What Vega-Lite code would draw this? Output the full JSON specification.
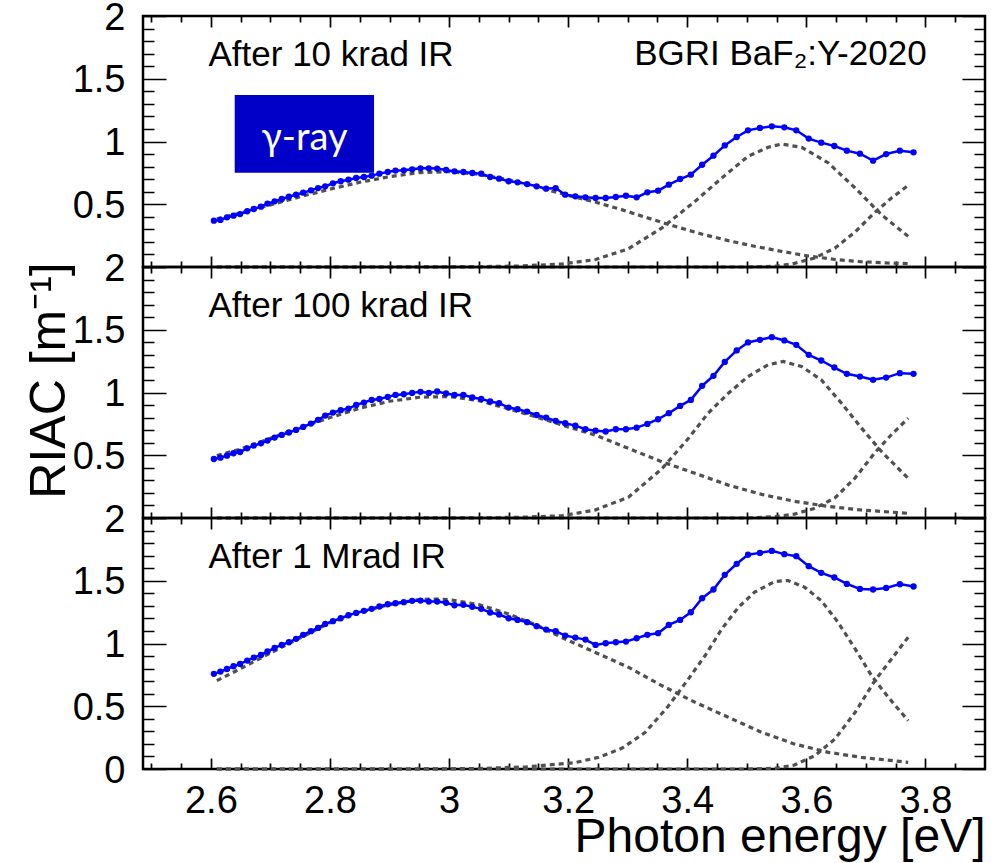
{
  "$schema": "https://vega.github.io/schema/vega-lite/v6.json",
  "background": "white",
  "padding": {"left": 22, "top": -3, "right": 0, "bottom": 0},
  "bounds": "flush",
  "spacing": 0,
  "config": {
    "view": {"stroke": "black", "strokeWidth": 2.5},
    "axis": {"ticks": false, "domain": false, "grid": false, "gridColor": "black", "gridOpacity": 1, "gridWidth": 1.7, "labelFont": "Liberation Sans", "labelFontSize": 38, "labelColor": "black", "titleFont": "Liberation Sans", "titleFontWeight": "normal", "titleColor": "black", "labelFlush": false, "labelOverlap": false},
    "text": {"font": "Liberation Sans"}
  },
  "datasets": {
    "blue": [
      {"p":1,"E":2.605,"v":0.369},{"p":1,"E":2.616,"v":0.375},{"p":1,"E":2.627,"v":0.396},{"p":1,"E":2.638,"v":0.409},{"p":1,"E":2.649,"v":0.422},
      {"p":1,"E":2.661,"v":0.444},{"p":1,"E":2.672,"v":0.462},{"p":1,"E":2.684,"v":0.481},{"p":1,"E":2.695,"v":0.505},{"p":1,"E":2.707,"v":0.523},
      {"p":1,"E":2.719,"v":0.542},{"p":1,"E":2.731,"v":0.560},{"p":1,"E":2.743,"v":0.576},{"p":1,"E":2.755,"v":0.592},{"p":1,"E":2.768,"v":0.611},
      {"p":1,"E":2.780,"v":0.629},{"p":1,"E":2.792,"v":0.643},{"p":1,"E":2.805,"v":0.667},{"p":1,"E":2.818,"v":0.683},{"p":1,"E":2.831,"v":0.696},
      {"p":1,"E":2.844,"v":0.709},{"p":1,"E":2.857,"v":0.717},{"p":1,"E":2.870,"v":0.728},{"p":1,"E":2.883,"v":0.744},{"p":1,"E":2.897,"v":0.757},
      {"p":1,"E":2.910,"v":0.768},{"p":1,"E":2.924,"v":0.770},{"p":1,"E":2.938,"v":0.778},{"p":1,"E":2.952,"v":0.786},{"p":1,"E":2.966,"v":0.786},
      {"p":1,"E":2.980,"v":0.784},{"p":1,"E":2.995,"v":0.773},{"p":1,"E":3.009,"v":0.762},{"p":1,"E":3.024,"v":0.757},{"p":1,"E":3.039,"v":0.749},
      {"p":1,"E":3.054,"v":0.744},{"p":1,"E":3.069,"v":0.717},{"p":1,"E":3.084,"v":0.704},{"p":1,"E":3.100,"v":0.683},{"p":1,"E":3.115,"v":0.675},
      {"p":1,"E":3.131,"v":0.661},{"p":1,"E":3.147,"v":0.643},{"p":1,"E":3.163,"v":0.624},{"p":1,"E":3.179,"v":0.629},{"p":1,"E":3.195,"v":0.576},
      {"p":1,"E":3.212,"v":0.563},{"p":1,"E":3.229,"v":0.555},{"p":1,"E":3.246,"v":0.550},{"p":1,"E":3.263,"v":0.550},{"p":1,"E":3.280,"v":0.558},
      {"p":1,"E":3.297,"v":0.568},{"p":1,"E":3.315,"v":0.555},{"p":1,"E":3.333,"v":0.595},{"p":1,"E":3.351,"v":0.608},{"p":1,"E":3.369,"v":0.656},
      {"p":1,"E":3.388,"v":0.701},{"p":1,"E":3.406,"v":0.736},{"p":1,"E":3.425,"v":0.815},{"p":1,"E":3.444,"v":0.887},{"p":1,"E":3.463,"v":0.969},
      {"p":1,"E":3.483,"v":1.036},{"p":1,"E":3.502,"v":1.089},{"p":1,"E":3.522,"v":1.108},{"p":1,"E":3.542,"v":1.121},{"p":1,"E":3.563,"v":1.113},
      {"p":1,"E":3.583,"v":1.089},{"p":1,"E":3.604,"v":1.023},{"p":1,"E":3.625,"v":0.991},{"p":1,"E":3.647,"v":0.964},{"p":1,"E":3.668,"v":0.927},
      {"p":1,"E":3.690,"v":0.903},{"p":1,"E":3.712,"v":0.847},{"p":1,"E":3.734,"v":0.900},{"p":1,"E":3.757,"v":0.927},{"p":1,"E":3.780,"v":0.914},

      {"p":2,"E":2.605,"v":0.470},{"p":2,"E":2.616,"v":0.481},{"p":2,"E":2.627,"v":0.497},{"p":2,"E":2.638,"v":0.516},{"p":2,"E":2.649,"v":0.526},
      {"p":2,"E":2.661,"v":0.555},{"p":2,"E":2.672,"v":0.577},{"p":2,"E":2.684,"v":0.595},{"p":2,"E":2.695,"v":0.617},{"p":2,"E":2.707,"v":0.641},
      {"p":2,"E":2.719,"v":0.662},{"p":2,"E":2.731,"v":0.681},{"p":2,"E":2.743,"v":0.702},{"p":2,"E":2.755,"v":0.726},{"p":2,"E":2.768,"v":0.752},
      {"p":2,"E":2.780,"v":0.782},{"p":2,"E":2.792,"v":0.816},{"p":2,"E":2.805,"v":0.840},{"p":2,"E":2.818,"v":0.859},{"p":2,"E":2.831,"v":0.872},
      {"p":2,"E":2.844,"v":0.901},{"p":2,"E":2.857,"v":0.920},{"p":2,"E":2.870,"v":0.941},{"p":2,"E":2.883,"v":0.949},{"p":2,"E":2.897,"v":0.965},
      {"p":2,"E":2.910,"v":0.981},{"p":2,"E":2.924,"v":0.986},{"p":2,"E":2.938,"v":0.997},{"p":2,"E":2.952,"v":1.005},{"p":2,"E":2.966,"v":0.997},
      {"p":2,"E":2.980,"v":1.008},{"p":2,"E":2.995,"v":0.992},{"p":2,"E":3.009,"v":0.981},{"p":2,"E":3.024,"v":0.981},{"p":2,"E":3.039,"v":0.960},
      {"p":2,"E":3.054,"v":0.949},{"p":2,"E":3.069,"v":0.928},{"p":2,"E":3.084,"v":0.915},{"p":2,"E":3.100,"v":0.880},{"p":2,"E":3.115,"v":0.867},
      {"p":2,"E":3.131,"v":0.848},{"p":2,"E":3.147,"v":0.821},{"p":2,"E":3.163,"v":0.800},{"p":2,"E":3.179,"v":0.774},{"p":2,"E":3.195,"v":0.755},
      {"p":2,"E":3.212,"v":0.736},{"p":2,"E":3.229,"v":0.707},{"p":2,"E":3.246,"v":0.696},{"p":2,"E":3.263,"v":0.689},{"p":2,"E":3.280,"v":0.707},
      {"p":2,"E":3.297,"v":0.707},{"p":2,"E":3.315,"v":0.720},{"p":2,"E":3.333,"v":0.750},{"p":2,"E":3.351,"v":0.787},{"p":2,"E":3.369,"v":0.835},
      {"p":2,"E":3.388,"v":0.893},{"p":2,"E":3.406,"v":0.941},{"p":2,"E":3.425,"v":1.053},{"p":2,"E":3.444,"v":1.133},{"p":2,"E":3.463,"v":1.244},
      {"p":2,"E":3.483,"v":1.335},{"p":2,"E":3.502,"v":1.399},{"p":2,"E":3.522,"v":1.420},{"p":2,"E":3.542,"v":1.441},{"p":2,"E":3.563,"v":1.415},
      {"p":2,"E":3.583,"v":1.380},{"p":2,"E":3.604,"v":1.300},{"p":2,"E":3.625,"v":1.255},{"p":2,"E":3.647,"v":1.199},{"p":2,"E":3.668,"v":1.149},
      {"p":2,"E":3.690,"v":1.127},{"p":2,"E":3.712,"v":1.101},{"p":2,"E":3.734,"v":1.119},{"p":2,"E":3.757,"v":1.154},{"p":2,"E":3.780,"v":1.149},

      {"p":3,"E":2.605,"v":0.758},{"p":3,"E":2.616,"v":0.776},{"p":3,"E":2.627,"v":0.797},{"p":3,"E":2.638,"v":0.819},{"p":3,"E":2.649,"v":0.837},
      {"p":3,"E":2.661,"v":0.864},{"p":3,"E":2.672,"v":0.888},{"p":3,"E":2.684,"v":0.909},{"p":3,"E":2.695,"v":0.936},{"p":3,"E":2.707,"v":0.965},
      {"p":3,"E":2.719,"v":0.989},{"p":3,"E":2.731,"v":1.010},{"p":3,"E":2.743,"v":1.037},{"p":3,"E":2.755,"v":1.069},{"p":3,"E":2.768,"v":1.098},
      {"p":3,"E":2.780,"v":1.124},{"p":3,"E":2.792,"v":1.156},{"p":3,"E":2.805,"v":1.178},{"p":3,"E":2.818,"v":1.201},{"p":3,"E":2.831,"v":1.225},
      {"p":3,"E":2.844,"v":1.244},{"p":3,"E":2.857,"v":1.260},{"p":3,"E":2.870,"v":1.276},{"p":3,"E":2.883,"v":1.295},{"p":3,"E":2.897,"v":1.313},
      {"p":3,"E":2.910,"v":1.321},{"p":3,"E":2.924,"v":1.329},{"p":3,"E":2.938,"v":1.340},{"p":3,"E":2.952,"v":1.342},{"p":3,"E":2.966,"v":1.334},
      {"p":3,"E":2.980,"v":1.334},{"p":3,"E":2.995,"v":1.324},{"p":3,"E":3.009,"v":1.305},{"p":3,"E":3.024,"v":1.308},{"p":3,"E":3.039,"v":1.292},
      {"p":3,"E":3.054,"v":1.276},{"p":3,"E":3.069,"v":1.247},{"p":3,"E":3.084,"v":1.231},{"p":3,"E":3.100,"v":1.201},{"p":3,"E":3.115,"v":1.188},
      {"p":3,"E":3.131,"v":1.170},{"p":3,"E":3.147,"v":1.138},{"p":3,"E":3.163,"v":1.111},{"p":3,"E":3.179,"v":1.098},{"p":3,"E":3.195,"v":1.063},
      {"p":3,"E":3.212,"v":1.047},{"p":3,"E":3.229,"v":1.031},{"p":3,"E":3.246,"v":0.989},{"p":3,"E":3.263,"v":1.002},{"p":3,"E":3.280,"v":1.010},
      {"p":3,"E":3.297,"v":1.015},{"p":3,"E":3.315,"v":1.042},{"p":3,"E":3.333,"v":1.069},{"p":3,"E":3.351,"v":1.082},{"p":3,"E":3.369,"v":1.148},
      {"p":3,"E":3.388,"v":1.188},{"p":3,"E":3.406,"v":1.249},{"p":3,"E":3.425,"v":1.361},{"p":3,"E":3.444,"v":1.430},{"p":3,"E":3.463,"v":1.547},
      {"p":3,"E":3.483,"v":1.635},{"p":3,"E":3.502,"v":1.707},{"p":3,"E":3.522,"v":1.722},{"p":3,"E":3.542,"v":1.738},{"p":3,"E":3.563,"v":1.712},
      {"p":3,"E":3.583,"v":1.696},{"p":3,"E":3.604,"v":1.616},{"p":3,"E":3.625,"v":1.563},{"p":3,"E":3.647,"v":1.526},{"p":3,"E":3.668,"v":1.475},
      {"p":3,"E":3.690,"v":1.435},{"p":3,"E":3.712,"v":1.430},{"p":3,"E":3.734,"v":1.443},{"p":3,"E":3.757,"v":1.473},{"p":3,"E":3.780,"v":1.454}
    ],
    "fit": [
      {"p":1,"c":"A","E":2.61,"v":0.385},{"p":1,"c":"A","E":2.65,"v":0.43},{"p":1,"c":"A","E":2.70,"v":0.495},{"p":1,"c":"A","E":2.75,"v":0.56},
      {"p":1,"c":"A","E":2.80,"v":0.62},{"p":1,"c":"A","E":2.85,"v":0.675},{"p":1,"c":"A","E":2.90,"v":0.72},{"p":1,"c":"A","E":2.95,"v":0.752},
      {"p":1,"c":"A","E":3.00,"v":0.76},{"p":1,"c":"A","E":3.05,"v":0.738},{"p":1,"c":"A","E":3.10,"v":0.695},{"p":1,"c":"A","E":3.15,"v":0.635},
      {"p":1,"c":"A","E":3.20,"v":0.57},{"p":1,"c":"A","E":3.245,"v":0.518},{"p":1,"c":"A","E":3.29,"v":0.457},{"p":1,"c":"A","E":3.334,"v":0.39},
      {"p":1,"c":"A","E":3.379,"v":0.324},{"p":1,"c":"A","E":3.424,"v":0.263},{"p":1,"c":"A","E":3.469,"v":0.21},{"p":1,"c":"A","E":3.513,"v":0.165},
      {"p":1,"c":"A","E":3.558,"v":0.125},{"p":1,"c":"A","E":3.603,"v":0.088},{"p":1,"c":"A","E":3.648,"v":0.06},{"p":1,"c":"A","E":3.692,"v":0.042},
      {"p":1,"c":"A","E":3.737,"v":0.032},{"p":1,"c":"A","E":3.775,"v":0.026},
      {"p":1,"c":"B","E":2.61,"v":0.0},{"p":1,"c":"B","E":2.90,"v":0.0},{"p":1,"c":"B","E":3.05,"v":0.003},{"p":1,"c":"B","E":3.12,"v":0.008},
      {"p":1,"c":"B","E":3.189,"v":0.024},{"p":1,"c":"B","E":3.245,"v":0.058},{"p":1,"c":"B","E":3.301,"v":0.145},{"p":1,"c":"B","E":3.357,"v":0.31},
      {"p":1,"c":"B","E":3.413,"v":0.523},{"p":1,"c":"B","E":3.458,"v":0.709},{"p":1,"c":"B","E":3.502,"v":0.882},{"p":1,"c":"B","E":3.536,"v":0.954},
      {"p":1,"c":"B","E":3.558,"v":0.98},{"p":1,"c":"B","E":3.592,"v":0.954},{"p":1,"c":"B","E":3.637,"v":0.829},{"p":1,"c":"B","E":3.682,"v":0.629},
      {"p":1,"c":"B","E":3.726,"v":0.417},{"p":1,"c":"B","E":3.771,"v":0.244},
      {"p":1,"c":"C","E":2.61,"v":0.0},{"p":1,"c":"C","E":3.50,"v":0.0},{"p":1,"c":"C","E":3.547,"v":0.005},{"p":1,"c":"C","E":3.580,"v":0.029},
      {"p":1,"c":"C","E":3.614,"v":0.072},{"p":1,"c":"C","E":3.648,"v":0.151},{"p":1,"c":"C","E":3.682,"v":0.28},{"p":1,"c":"C","E":3.715,"v":0.435},
      {"p":1,"c":"C","E":3.743,"v":0.55},{"p":1,"c":"C","E":3.771,"v":0.65},

      {"p":2,"c":"A","E":2.61,"v":0.497},{"p":2,"c":"A","E":2.65,"v":0.55},{"p":2,"c":"A","E":2.70,"v":0.635},{"p":2,"c":"A","E":2.75,"v":0.72},
      {"p":2,"c":"A","E":2.80,"v":0.80},{"p":2,"c":"A","E":2.85,"v":0.875},{"p":2,"c":"A","E":2.90,"v":0.93},{"p":2,"c":"A","E":2.95,"v":0.962},
      {"p":2,"c":"A","E":3.00,"v":0.968},{"p":2,"c":"A","E":3.05,"v":0.935},{"p":2,"c":"A","E":3.10,"v":0.87},{"p":2,"c":"A","E":3.15,"v":0.80},
      {"p":2,"c":"A","E":3.192,"v":0.737},{"p":2,"c":"A","E":3.245,"v":0.662},{"p":2,"c":"A","E":3.301,"v":0.555},{"p":2,"c":"A","E":3.357,"v":0.449},
      {"p":2,"c":"A","E":3.413,"v":0.356},{"p":2,"c":"A","E":3.469,"v":0.262},{"p":2,"c":"A","E":3.525,"v":0.188},{"p":2,"c":"A","E":3.580,"v":0.133},
      {"p":2,"c":"A","E":3.637,"v":0.092},{"p":2,"c":"A","E":3.692,"v":0.064},{"p":2,"c":"A","E":3.771,"v":0.037},
      {"p":2,"c":"B","E":2.61,"v":0.0},{"p":2,"c":"B","E":2.90,"v":0.0},{"p":2,"c":"B","E":3.05,"v":0.002},{"p":2,"c":"B","E":3.12,"v":0.006},
      {"p":2,"c":"B","E":3.189,"v":0.018},{"p":2,"c":"B","E":3.245,"v":0.063},{"p":2,"c":"B","E":3.301,"v":0.165},{"p":2,"c":"B","E":3.357,"v":0.39},
      {"p":2,"c":"B","E":3.402,"v":0.635},{"p":2,"c":"B","E":3.435,"v":0.835},{"p":2,"c":"B","E":3.469,"v":0.994},{"p":2,"c":"B","E":3.502,"v":1.127},
      {"p":2,"c":"B","E":3.536,"v":1.221},{"p":2,"c":"B","E":3.561,"v":1.247},{"p":2,"c":"B","E":3.592,"v":1.207},{"p":2,"c":"B","E":3.625,"v":1.101},
      {"p":2,"c":"B","E":3.659,"v":0.915},{"p":2,"c":"B","E":3.692,"v":0.72},{"p":2,"c":"B","E":3.726,"v":0.53},{"p":2,"c":"B","E":3.771,"v":0.316},
      {"p":2,"c":"C","E":2.61,"v":0.0},{"p":2,"c":"C","E":3.50,"v":0.0},{"p":2,"c":"C","E":3.547,"v":0.010},{"p":2,"c":"C","E":3.580,"v":0.031},
      {"p":2,"c":"C","E":3.614,"v":0.077},{"p":2,"c":"C","E":3.648,"v":0.16},{"p":2,"c":"C","E":3.682,"v":0.32},{"p":2,"c":"C","E":3.715,"v":0.52},
      {"p":2,"c":"C","E":3.743,"v":0.665},{"p":2,"c":"C","E":3.771,"v":0.795},

      {"p":3,"c":"A","E":2.61,"v":0.704},{"p":3,"c":"A","E":2.65,"v":0.80},{"p":3,"c":"A","E":2.70,"v":0.925},{"p":3,"c":"A","E":2.75,"v":1.045},
      {"p":3,"c":"A","E":2.80,"v":1.165},{"p":3,"c":"A","E":2.85,"v":1.25},{"p":3,"c":"A","E":2.90,"v":1.31},{"p":3,"c":"A","E":2.95,"v":1.35},
      {"p":3,"c":"A","E":2.97,"v":1.355},{"p":3,"c":"A","E":3.00,"v":1.35},{"p":3,"c":"A","E":3.05,"v":1.31},{"p":3,"c":"A","E":3.10,"v":1.235},
      {"p":3,"c":"A","E":3.15,"v":1.14},{"p":3,"c":"A","E":3.192,"v":1.042},{"p":3,"c":"A","E":3.245,"v":0.93},{"p":3,"c":"A","E":3.301,"v":0.811},
      {"p":3,"c":"A","E":3.357,"v":0.665},{"p":3,"c":"A","E":3.413,"v":0.532},{"p":3,"c":"A","E":3.469,"v":0.412},{"p":3,"c":"A","E":3.525,"v":0.292},
      {"p":3,"c":"A","E":3.580,"v":0.199},{"p":3,"c":"A","E":3.637,"v":0.133},{"p":3,"c":"A","E":3.692,"v":0.093},{"p":3,"c":"A","E":3.771,"v":0.053},
      {"p":3,"c":"B","E":2.61,"v":0.0},{"p":3,"c":"B","E":2.95,"v":0.0},{"p":3,"c":"B","E":3.05,"v":0.004},{"p":3,"c":"B","E":3.13,"v":0.017},
      {"p":3,"c":"B","E":3.211,"v":0.05},{"p":3,"c":"B","E":3.251,"v":0.093},{"p":3,"c":"B","E":3.290,"v":0.165},{"p":3,"c":"B","E":3.329,"v":0.29},
      {"p":3,"c":"B","E":3.368,"v":0.50},{"p":3,"c":"B","E":3.402,"v":0.718},{"p":3,"c":"B","E":3.430,"v":0.904},{"p":3,"c":"B","E":3.458,"v":1.116},
      {"p":3,"c":"B","E":3.486,"v":1.289},{"p":3,"c":"B","E":3.513,"v":1.409},{"p":3,"c":"B","E":3.547,"v":1.494},{"p":3,"c":"B","E":3.569,"v":1.502},
      {"p":3,"c":"B","E":3.597,"v":1.449},{"p":3,"c":"B","E":3.625,"v":1.342},{"p":3,"c":"B","E":3.653,"v":1.170},{"p":3,"c":"B","E":3.682,"v":0.957},
      {"p":3,"c":"B","E":3.710,"v":0.74},{"p":3,"c":"B","E":3.737,"v":0.575},{"p":3,"c":"B","E":3.771,"v":0.385},
      {"p":3,"c":"C","E":2.61,"v":0.0},{"p":3,"c":"C","E":3.50,"v":0.0},{"p":3,"c":"C","E":3.547,"v":0.005},{"p":3,"c":"C","E":3.580,"v":0.032},
      {"p":3,"c":"C","E":3.614,"v":0.106},{"p":3,"c":"C","E":3.648,"v":0.239},{"p":3,"c":"C","E":3.682,"v":0.452},{"p":3,"c":"C","E":3.715,"v":0.704},
      {"p":3,"c":"C","E":3.743,"v":0.877},{"p":3,"c":"C","E":3.771,"v":1.050}
    ],
    "txt": [
      {"p":1,"E":2.596,"v":1.6,"t":"After 10 krad IR"},
      {"p":2,"E":2.596,"v":1.6,"t":"After 100 krad IR"},
      {"p":3,"E":2.596,"v":1.6,"t":"After 1 Mrad IR"}
    ],
    "tag": [{"p":1,"E":3.802,"v":1.61,"t":"BGRI BaF₂:Y-2020"}],
    "box": [{"p":1,"x1":2.640,"x2":2.874,"y1":0.751,"y2":1.3705}],
    "gam": [{"p":1,"E":2.757,"v":0.93,"t":"γ-ray"}]
  },
  "vconcat": [
    {
      "width": 842, "height": 251,
      "resolve": {"scale": {"x": "independent", "y": "independent"}},
      "layer": [
        {"data": {"name": "box"}, "mark": {"type": "rect", "color": "#0000C8"},
         "encoding": {"x": {"field": "x1", "type": "quantitative", "scale": {"domain": [2.486, 3.9], "nice": false, "zero": false}, "axis": null},
                      "x2": {"field": "x2"},
                      "y": {"field": "y1", "type": "quantitative", "scale": {"domain": [0, 2], "nice": false, "zero": false}, "axis": null},
                      "y2": {"field": "y2"}}},
        {"data": {"name": "fit"}, "transform": [{"filter": "datum.p == 1"}],
         "mark": {"type": "line", "color": "#505050", "strokeWidth": 3.2, "strokeDash": [5, 4]},
         "encoding": {"x": {"field": "E", "type": "quantitative", "scale": {"domain": [2.486, 3.9], "nice": false, "zero": false},
                            "axis": {"orient": "bottom", "values": [2.6,2.8,3,3.2,3.4,3.6,3.8], "labels": false, "title": null, "grid": true, "gridDash": [11, 229, 11]}},
                      "y": {"field": "v", "type": "quantitative", "scale": {"domain": [0, 2], "nice": false, "zero": false},
                            "axis": {"orient": "left", "values": [0,0.5,1,1.5,2], "labelPadding": 18, "labelOffset": 2, "format": "~g", "labelExpr": "datum.value == 0 ? '' : datum.label", "title": null, "grid": true, "gridDash": [23, 796, 23]}},
                      "detail": {"field": "c"}}},
        {"data": {"name": "blue"}, "transform": [{"filter": "datum.p == 1"}],
         "mark": {"type": "line", "color": "#0000FF", "strokeWidth": 2.5},
         "encoding": {"x": {"field": "E", "type": "quantitative", "scale": {"domain": [2.486, 3.9], "nice": false, "zero": false},
                            "axis": {"orient": "bottom", "values": [2.5,2.55,2.65,2.7,2.75,2.85,2.9,2.95,3.05,3.1,3.15,3.25,3.3,3.35,3.45,3.5,3.55,3.65,3.7,3.75,3.85], "labels": false, "title": null, "grid": true, "gridDash": [6, 239, 6]}},
                      "y": {"field": "v", "type": "quantitative", "scale": {"domain": [0, 2], "nice": false, "zero": false},
                            "axis": {"orient": "left", "values": [0.1,0.2,0.3,0.4,0.6,0.7,0.8,0.9,1.1,1.2,1.3,1.4,1.6,1.7,1.8,1.9], "labels": false, "title": null, "grid": true, "gridDash": [11, 820, 11]}}}},
        {"data": {"name": "blue"}, "transform": [{"filter": "datum.p == 1"}],
         "mark": {"type": "point", "filled": true, "color": "#0000FF", "size": 40, "opacity": 1},
         "encoding": {"x": {"field": "E", "type": "quantitative", "scale": {"domain": [2.486, 3.9], "nice": false, "zero": false}, "axis": null},
                      "y": {"field": "v", "type": "quantitative", "scale": {"domain": [0, 2], "nice": false, "zero": false}, "axis": null}}},
        {"data": {"name": "txt"}, "transform": [{"filter": "datum.p == 1"}],
         "mark": {"type": "text", "align": "left", "baseline": "alphabetic", "fontSize": 35, "font": "Liberation Sans", "color": "black"},
         "encoding": {"x": {"field": "E", "type": "quantitative", "scale": {"domain": [2.486, 3.9], "nice": false, "zero": false}, "axis": null},
                      "y": {"field": "v", "type": "quantitative", "scale": {"domain": [0, 2], "nice": false, "zero": false}, "axis": null},
                      "text": {"field": "t"}}},
        {"data": {"name": "tag"},
         "mark": {"type": "text", "align": "right", "baseline": "alphabetic", "fontSize": 35, "font": "Liberation Sans", "color": "black"},
         "encoding": {"x": {"field": "E", "type": "quantitative", "scale": {"domain": [2.486, 3.9], "nice": false, "zero": false}, "axis": null},
                      "y": {"field": "v", "type": "quantitative", "scale": {"domain": [0, 2], "nice": false, "zero": false}, "axis": null},
                      "text": {"field": "t"}}},
        {"data": {"name": "gam"},
         "mark": {"type": "text", "align": "center", "baseline": "alphabetic", "fontSize": 38, "font": "Lato", "color": "white"},
         "encoding": {"x": {"field": "E", "type": "quantitative", "scale": {"domain": [2.486, 3.9], "nice": false, "zero": false}, "axis": null},
                      "y": {"field": "v", "type": "quantitative", "scale": {"domain": [0, 2], "nice": false, "zero": false}, "axis": null},
                      "text": {"field": "t"}}}
      ]
    },
    {
      "width": 842, "height": 251,
      "resolve": {"scale": {"x": "independent", "y": "independent"}},
      "layer": [
        {"data": {"name": "fit"}, "transform": [{"filter": "datum.p == 2"}],
         "mark": {"type": "line", "color": "#505050", "strokeWidth": 3.2, "strokeDash": [5, 4]},
         "encoding": {"x": {"field": "E", "type": "quantitative", "scale": {"domain": [2.486, 3.9], "nice": false, "zero": false},
                            "axis": {"orient": "bottom", "values": [2.6,2.8,3,3.2,3.4,3.6,3.8], "labels": false, "title": null, "grid": true, "gridDash": [11, 229, 11]}},
                      "y": {"field": "v", "type": "quantitative", "scale": {"domain": [0, 2], "nice": false, "zero": false},
                            "axis": {"orient": "left", "values": [0,0.5,1,1.5,2], "labelPadding": 18, "labelOffset": 2, "format": "~g", "labelExpr": "datum.value == 0 ? '' : datum.label", "grid": true, "gridDash": [23, 796, 23],
                                     "title": "RIAC [m⁻¹]", "titleFontSize": 50, "titleAngle": 270, "titleX": -79, "titleY": 113, "titleAlign": "center", "titleBaseline": "alphabetic"}},
                      "detail": {"field": "c"}}},
        {"data": {"name": "blue"}, "transform": [{"filter": "datum.p == 2"}],
         "mark": {"type": "line", "color": "#0000FF", "strokeWidth": 2.5},
         "encoding": {"x": {"field": "E", "type": "quantitative", "scale": {"domain": [2.486, 3.9], "nice": false, "zero": false},
                            "axis": {"orient": "bottom", "values": [2.5,2.55,2.65,2.7,2.75,2.85,2.9,2.95,3.05,3.1,3.15,3.25,3.3,3.35,3.45,3.5,3.55,3.65,3.7,3.75,3.85], "labels": false, "title": null, "grid": true, "gridDash": [6, 239, 6]}},
                      "y": {"field": "v", "type": "quantitative", "scale": {"domain": [0, 2], "nice": false, "zero": false},
                            "axis": {"orient": "left", "values": [0.1,0.2,0.3,0.4,0.6,0.7,0.8,0.9,1.1,1.2,1.3,1.4,1.6,1.7,1.8,1.9], "labels": false, "title": null, "grid": true, "gridDash": [11, 820, 11]}}}},
        {"data": {"name": "blue"}, "transform": [{"filter": "datum.p == 2"}],
         "mark": {"type": "point", "filled": true, "color": "#0000FF", "size": 40, "opacity": 1},
         "encoding": {"x": {"field": "E", "type": "quantitative", "scale": {"domain": [2.486, 3.9], "nice": false, "zero": false}, "axis": null},
                      "y": {"field": "v", "type": "quantitative", "scale": {"domain": [0, 2], "nice": false, "zero": false}, "axis": null}}},
        {"data": {"name": "txt"}, "transform": [{"filter": "datum.p == 2"}],
         "mark": {"type": "text", "align": "left", "baseline": "alphabetic", "fontSize": 35, "font": "Liberation Sans", "color": "black"},
         "encoding": {"x": {"field": "E", "type": "quantitative", "scale": {"domain": [2.486, 3.9], "nice": false, "zero": false}, "axis": null},
                      "y": {"field": "v", "type": "quantitative", "scale": {"domain": [0, 2], "nice": false, "zero": false}, "axis": null},
                      "text": {"field": "t"}}}
      ]
    },
    {
      "width": 842, "height": 251,
      "resolve": {"scale": {"x": "independent", "y": "independent"}},
      "layer": [
        {"data": {"name": "fit"}, "transform": [{"filter": "datum.p == 3"}],
         "mark": {"type": "line", "color": "#505050", "strokeWidth": 3.2, "strokeDash": [5, 4]},
         "encoding": {"x": {"field": "E", "type": "quantitative", "scale": {"domain": [2.486, 3.9], "nice": false, "zero": false},
                            "axis": {"orient": "bottom", "values": [2.6,2.8,3,3.2,3.4,3.6,3.8], "labelPadding": 13, "format": ".2~f", "grid": true, "gridDash": [11, 229, 11],
                                     "title": "Photon energy [eV]", "titleFontSize": 48, "titleX": 842, "titleY": 82, "titleAlign": "right", "titleBaseline": "alphabetic"}},
                      "y": {"field": "v", "type": "quantitative", "scale": {"domain": [0, 2], "nice": false, "zero": false},
                            "axis": {"orient": "left", "values": [0,0.5,1,1.5,2], "labelPadding": 18, "labelOffset": 2, "format": "~g", "title": null, "grid": true, "gridDash": [23, 796, 23]}},
                      "detail": {"field": "c"}}},
        {"data": {"name": "blue"}, "transform": [{"filter": "datum.p == 3"}],
         "mark": {"type": "line", "color": "#0000FF", "strokeWidth": 2.5},
         "encoding": {"x": {"field": "E", "type": "quantitative", "scale": {"domain": [2.486, 3.9], "nice": false, "zero": false},
                            "axis": {"orient": "bottom", "values": [2.5,2.55,2.65,2.7,2.75,2.85,2.9,2.95,3.05,3.1,3.15,3.25,3.3,3.35,3.45,3.5,3.55,3.65,3.7,3.75,3.85], "labels": false, "title": null, "grid": true, "gridDash": [6, 239, 6]}},
                      "y": {"field": "v", "type": "quantitative", "scale": {"domain": [0, 2], "nice": false, "zero": false},
                            "axis": {"orient": "left", "values": [0.1,0.2,0.3,0.4,0.6,0.7,0.8,0.9,1.1,1.2,1.3,1.4,1.6,1.7,1.8,1.9], "labels": false, "title": null, "grid": true, "gridDash": [11, 820, 11]}}}},
        {"data": {"name": "blue"}, "transform": [{"filter": "datum.p == 3"}],
         "mark": {"type": "point", "filled": true, "color": "#0000FF", "size": 40, "opacity": 1},
         "encoding": {"x": {"field": "E", "type": "quantitative", "scale": {"domain": [2.486, 3.9], "nice": false, "zero": false}, "axis": null},
                      "y": {"field": "v", "type": "quantitative", "scale": {"domain": [0, 2], "nice": false, "zero": false}, "axis": null}}},
        {"data": {"name": "txt"}, "transform": [{"filter": "datum.p == 3"}],
         "mark": {"type": "text", "align": "left", "baseline": "alphabetic", "fontSize": 35, "font": "Liberation Sans", "color": "black"},
         "encoding": {"x": {"field": "E", "type": "quantitative", "scale": {"domain": [2.486, 3.9], "nice": false, "zero": false}, "axis": null},
                      "y": {"field": "v", "type": "quantitative", "scale": {"domain": [0, 2], "nice": false, "zero": false}, "axis": null},
                      "text": {"field": "t"}}}
      ]
    }
  ]
}
